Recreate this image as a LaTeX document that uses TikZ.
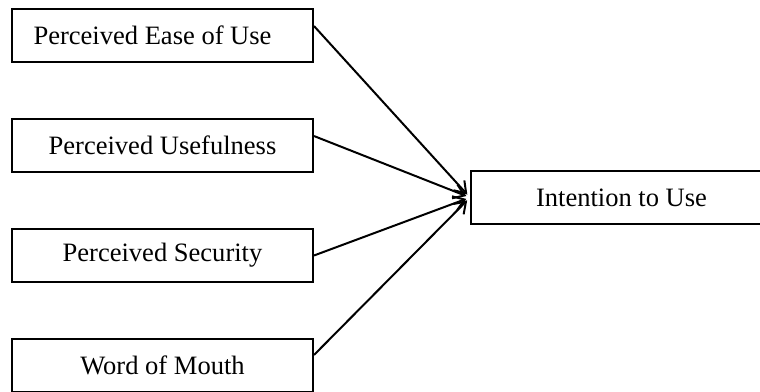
\documentclass[tikz,border=0pt]{standalone}
\usepackage{fontspec}
\setmainfont{Liberation Serif}
\usepackage{tikz}
\usetikzlibrary{arrows.meta}

\tikzset{
  factor/.style={draw, line width=1.5pt, rectangle, minimum width=225.75pt, minimum height=39.75pt, inner sep=0.75pt, font=\fontsize{19.9}{24}\selectfont},
  path/.style={line width=1.5pt, -{Straight Barb[length=8pt,width=11pt,line width=1.5pt]}}
}

\begin{document}
\begin{tikzpicture}[x=0.75pt,y=0.75pt,yscale=-1,xscale=1]
%set diagram left start at 0, and has height of 392
\useasboundingbox (0,0) rectangle (760,392);

%Shape: Rectangle [id:peou] 
\node [factor] (peou) at (162.5,35.5) {Perceived Ease of Use\hspace*{15pt}};
%Shape: Rectangle [id:pu] 
\node [factor] (pu) at (162.5,145.5) {Perceived Usefulness};
%Shape: Rectangle [id:ps] 
\node [factor] (ps) at (162.5,255.5) {Perceived Security};
%Shape: Rectangle [id:wom] 
\node [factor] (wom) at (162.5,365.5) {Word of Mouth};
%Shape: Rectangle [id:itu] 
\node [factor] (itu) at (621.5,197.5) {Intention to Use};

%Straight Lines [id:peou-itu] 
\draw [path, shorten >=3pt]  ([yshift=-7.1pt]peou.east) -- (itu.west) ;
%Straight Lines [id:pu-itu] 
\draw [path, shorten >=3pt]  ([yshift=-7.1pt]pu.east) -- (itu.west) ;
%Straight Lines [id:ps-itu] 
\draw [path, shorten >=3pt]  (ps.east) -- (itu.west) ;
%Straight Lines [id:wom-itu] 
\draw [path, shorten >=3pt]  ([yshift=-7.9pt]wom.east) -- (itu.west) ;

\end{tikzpicture}
\end{document}
